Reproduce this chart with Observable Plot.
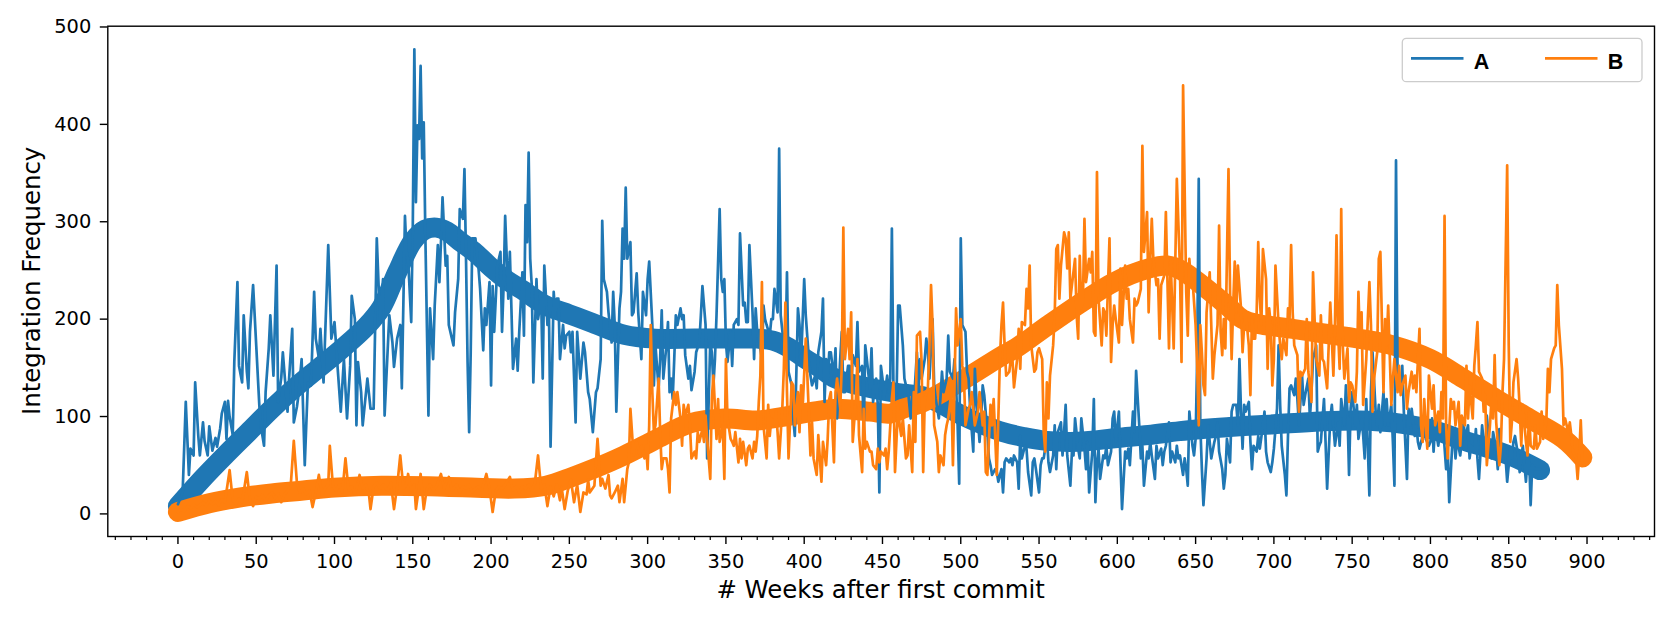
<!DOCTYPE html>
<html>
<head>
<meta charset="utf-8">
<script src="https://cdn.jsdelivr.net/npm/d3@7"></script>
<script src="https://cdn.jsdelivr.net/npm/@observablehq/plot@0.6"></script>
<style>
  html, body { margin: 0; padding: 0; background: #fff; }
  #chart { width: 1674px; height: 620px; }
</style>
</head>
<body>
<div id="chart"></div>
<script>
// ---- Data: [week, integration frequency] ----
const seriesNames = ["A", "B"];
const seriesColors = ["#1f77b4", "#ff7f0e"];

const seriesA = [
[0,10],[3,22],[5,115],[7,40],[8,67],[10,60],[11,135],[13,80],[14,60],[16,94],[17,75],[19,60],[20,90],[22,65],[24,78],[25,69],[27,88],[28,103],[30,115],[31,77],[32,116],[33,100],[35,81],[36,156],[38,238],[39,152],[41,135],[42,204],[44,146],[45,129],[46,187],[48,235],[50,173],[52,111],[53,90],[55,70],[56,125],[58,170],[59,204],[61,142],[63,255],[64,115],[66,140],[67,166],[69,125],[70,105],[71,139],[73,190],[74,94],[76,110],[77,122],[79,159],[81,50],[83,135],[85,132],[87,228],[88,180],[90,160],[91,190],[93,135],[96,276],[98,180],[100,197],[102,150],[104,105],[106,159],[108,98],[110,152],[111,224],[113,200],[114,91],[115,156],[117,125],[118,91],[121,139],[123,108],[125,108],[127,283],[129,200],
[131,241],[132,101],[135,204],[137,176],[138,151],[140,180],[142,194],[143,129],[145,306],[146,269],[147,262],[149,197],[150,296],[151,477],[152,320],[153,399],[154,385],[155,460],[156,365],[157,402],[158,289],[159,194],[160,101],[161,211],[163,159],[164,214],[166,276],[167,238],[168,279],[169,325],[171,255],[172,265],[173,194],[175,180],[176,173],[177,207],[179,241],[180,313],[182,303],[183,354],[184,262],[185,156],[186,84],[187,166],[188,283],[190,283],[192,252],[193,231],[195,168],[196,211],[197,194],[199,238],[200,132],[201,234],[202,187],[204,255],[206,269],[207,187],[208,234],[209,306],[211,221],[212,269],[213,211],[214,149],[216,180],[217,147],[218,187],[220,248],[221,183],[222,317],[223,279],[224,371],[225,262],[226,234],[227,135],[229,241],[230,200],[232,221],[233,139],[234,255],[236,194],[237,204],[238,69],[240,228],[241,204],[242,221],[243,221],[244,159],[246,194],[247,170],[248,183],[250,187],[251,166],[252,187],[254,94],[255,187],[257,139],[259,176],[260,166],[262,125],
[263,118],[265,84],[267,125],[268,129],[270,159],[271,301],[272,241],[274,228],[275,207],[277,176],[278,228],[279,194],[280,105],[282,211],[283,228],[284,293],[285,262],[286,335],[287,262],[289,279],[290,204],[291,207],[293,247],[294,207],[296,159],[297,228],[299,204],[300,241],[301,259],[303,194],[304,132],[305,173],[307,129],[308,159],[309,209],[310,139],[312,173],[313,197],[314,125],[315,139],[316,118],[317,159],[318,204],[319,194],[321,211],[322,200],[323,204],[324,163],[326,139],[327,152],[328,127],[330,146],[331,166],[333,176],[334,204],[335,234],[337,194],[338,57],[340,176],[341,166],[342,132],[343,159],[344,204],[346,313],[347,241],[348,228],[349,241],[350,176],[351,156],[353,187],[354,152],[355,194],[357,200],[358,194],[359,288],[361,214],[362,217],[363,197],[364,197],[365,276],[367,207],[368,159],[369,211],[370,187],[371,180],[373,159],[374,214],[375,200],[376,194],[378,183],[379,200],[380,200],[381,231],[383,207],[384,375],[385,204],[387,173],[388,159],[389,248],[390,146],[392,132],[393,98],[394,80],[396,211],[397,194],[398,156],
[400,241],[401,204],[403,159],[404,142],[405,132],[407,142],[408,129],[409,166],[411,187],[412,221],[413,115],[414,159],[415,139],[416,166],[417,166],[419,139],[420,170],[421,98],[423,159],[424,187],[425,125],[426,125],[428,152],[429,152],[430,125],[431,163],[433,152],[434,197],[435,146],[437,152],[438,80],[439,173],[440,159],[442,129],[443,170],[444,115],[446,139],[447,112],[448,22],[449,152],[450,139],[451,118],[453,142],[454,125],[455,139],[456,293],[457,132],[459,122],[460,214],[461,214],[463,173],[464,139],[465,132],[466,132],[468,98],[469,122],[470,112],[472,166],[473,129],[474,159],[475,139],[477,159],[478,180],[479,166],[480,139],[482,200],[483,132],[484,118],[486,98],[487,118],[488,146],[489,125],[491,139],[492,183],[493,146],[495,139],[496,159],[497,132],[498,91],[499,31],[500,283],[501,194],[503,187],[504,146],[505,139],[506,108],[508,64],[509,149],[510,118],[512,74],[513,98],[514,132],[515,122],[517,84],[518,57],[519,50],[520,40],[522,46],[523,43],[524,33],[526,46],[527,22],[528,53],[529,57],[531,53],[532,57],[533,50],
[534,60],[536,53],[537,26],[538,80],[539,57],[541,70],[542,67],[543,43],[545,19],[546,53],[547,57],[548,46],[550,22],[551,50],[552,57],[553,57],[555,80],[556,53],[557,43],[559,60],[560,91],[561,46],[562,84],[564,94],[565,60],[566,84],[567,112],[568,60],[570,29],[571,64],[572,60],[573,98],[575,67],[576,57],[577,98],[579,67],[580,46],[581,74],[582,22],[584,64],[585,118],[586,12],[587,53],[588,67],[589,36],[591,60],[592,57],[593,70],[594,50],[596,64],[597,98],[598,105],[599,74],[601,105],[602,53],[603,5],[605,64],[606,57],[607,67],[608,50],[610,105],[611,84],[612,147],[614,91],[615,57],[616,70],[617,29],[619,64],[620,57],[621,74],[622,60],[624,36],[625,70],[626,57],[628,67],[629,50],[630,64],[631,70],[633,94],[634,53],[635,64],[637,53],[638,70],[639,57],[640,60],[642,40],[643,57],[644,46],[645,29],[646,105],[648,70],[649,60],[650,77],[651,159],[652,344],[653,91],[654,46],[655,9],[657,57],[658,91],[659,74],[660,57],[662,74],[663,80],[664,94],[665,64],[667,46],[668,26],
[669,40],[670,77],[672,53],[673,105],[674,112],[676,112],[677,91],[678,159],[679,105],[680,67],[681,112],[682,105],[684,115],[685,74],[686,46],[687,70],[689,64],[690,80],[691,67],[693,91],[694,105],[695,64],[696,53],[698,43],[699,53],[700,67],[702,108],[703,173],[704,112],[705,70],[707,40],[708,19],[709,80],[710,129],[711,132],[713,122],[714,139],[715,118],[716,91],[718,142],[719,112],[720,122],[722,139],[723,98],[724,125],[725,159],[727,173],[728,64],[729,70],[730,74],[732,118],[733,74],[734,26],[736,98],[737,112],[738,91],[739,70],[741,94],[742,70],[743,118],[745,91],[746,132],[747,105],[748,40],[749,108],[750,125],[752,91],[753,112],[754,77],[756,98],[757,81],[758,57],[759,118],[761,19],[762,125],[763,166],[765,105],[766,91],[767,112],[768,84],[770,125],[771,91],[772,118],[773,91],[775,112],[776,74],[777,29],[778,363],[779,142],[781,125],[782,152],[783,105],[785,36],[786,108],[787,91],[788,108],[790,80],[791,91],[792,74],[793,67],[795,80],[796,91],[797,77],[799,70],
[800,74],[801,98],[802,64],[803,91],[805,70],[806,84],[807,77],[808,91],[810,46],[811,70],[812,12],[814,74],[815,80],[816,57],[817,77],[819,60],[820,74],[821,98],[822,77],[824,91],[825,57],[826,70],[828,64],[829,87],[830,57],[831,36],[833,91],[834,74],[835,60],[836,101],[838,64],[839,57],[840,84],[842,67],[843,46],[844,87],[845,57],[847,70],[848,57],[849,33],[851,67],[852,57],[853,74],[854,80],[856,60],[857,43],[858,57],[859,70],[861,33],[862,57],[863,60],[864,9],[865,50],[867,46],[868,46],[870,46]
];

const seriesB = [
[0,2],[2,5],[4,3],[6,8],[8,6],[10,10],[12,7],[14,9],[16,12],[18,8],[20,14],[22,10],[24,13],[26,9],[28,15],[30,12],[33,45],[35,14],[37,10],[39,16],[41,12],[44,43],[46,14],[48,8],[50,18],[52,15],[54,20],[56,12],[58,19],[60,22],[62,16],[64,21],[66,12],[68,20],[70,24],[72,28],[74,75],[76,32],[78,22],[80,26],[82,20],[84,24],[86,7],[88,22],[90,40],[92,20],[94,26],[96,30],[97,70],[99,28],[101,24],[103,30],[105,22],[107,57],[109,24],[111,28],[113,20],[115,32],[116,40],[118,26],[120,30],[122,20],[123,5],[125,28],[127,32],[129,26],
[131,30],[134,24],[136,32],[138,5],[140,28],[142,60],[144,26],[146,30],[147,41],[149,24],[151,30],[152,5],[154,28],[155,41],[157,5],[159,26],[161,30],[163,24],[165,28],[168,41],[170,26],[173,38],[175,24],[178,30],[180,22],[182,28],[184,26],[186,30],[188,22],[190,26],[192,28],[194,24],[197,41],[199,26],[201,2],[203,24],[205,28],[207,26],[209,30],[212,38],[214,24],[216,28],[218,22],[220,28],[222,26],[224,30],[226,24],[228,32],[230,60],[232,26],[234,30],[236,8],[238,28],[240,18],[242,30],[244,14],[245,28],[247,5],[249,24],[251,35],[253,12],[255,30],[257,2],[259,22],[261,20],[262,35],
[263,22],[266,29],[268,77],[270,29],[271,36],[273,26],[275,40],[276,19],[277,16],[279,22],[281,29],[282,12],[284,36],[285,12],[287,46],[288,53],[289,108],[291,60],[292,70],[293,74],[295,60],[296,70],[298,57],[299,70],[300,46],[301,91],[302,194],[303,125],[304,84],[305,91],[307,139],[308,84],[309,46],[310,57],[312,57],[313,46],[314,22],[315,98],[317,125],[318,112],[319,125],[321,98],[322,70],[323,112],[324,101],[326,112],[327,91],[328,57],[330,64],[331,57],[332,84],[333,74],[335,87],[336,74],[337,101],[338,77],[340,36],[341,118],[342,142],[344,77],[345,118],[346,74],[348,91],[349,36],[350,159],[351,98],[353,77],[354,74],[355,70],[356,84],[358,53],[359,77],[360,57],[361,74],[363,50],[364,67],[365,70],[367,57],[368,74],[369,64],[370,80],[371,115],[372,142],[373,238],[374,91],[376,57],[377,112],[378,80],[379,98],[381,91],[382,105],[383,84],[384,57],[386,108],[387,149],[388,217],[389,125],[390,57],[392,135],[393,132],[394,91],[396,125],[397,84],[398,132],[399,108],
[401,180],[402,142],[403,101],[404,60],[405,94],[406,57],[408,40],[409,81],[410,57],[411,33],[412,74],[414,50],[415,77],[416,118],[417,125],[419,53],[420,125],[421,139],[423,108],[424,152],[425,294],[426,159],[428,190],[429,159],[430,207],[431,74],[433,118],[434,159],[435,81],[437,43],[438,108],[439,67],[440,74],[442,64],[443,64],[444,50],[446,46],[447,67],[448,53],[449,64],[451,60],[452,67],[453,46],[454,64],[456,118],[457,135],[458,43],[460,112],[461,91],[462,80],[463,98],[465,57],[466,60],[467,91],[469,43],[470,125],[471,74],[472,183],[474,187],[475,156],[476,43],[477,118],[479,129],[480,173],[481,235],[482,194],[483,91],[485,74],[486,43],[487,60],[489,50],[490,81],[491,91],[492,98],[494,125],[495,50],[496,132],[497,211],[498,173],[500,200],[501,152],[502,142],[503,91],[505,108],[506,112],[507,125],[509,91],[510,98],[511,105],[512,125],[514,91],[515,105],[516,43],[517,40],[519,112],[520,91],[521,118],[523,40],[524,98],[525,159],[526,194],[527,217],[528,173],[529,142],[531,146],[532,159],[533,159],
[534,130],[536,159],[537,190],[538,149],[539,197],[541,194],[542,231],[543,211],[544,255],[545,173],[547,146],[548,149],[549,166],[550,170],[552,159],[553,84],[554,64],[555,135],[556,98],[557,142],[559,173],[560,204],[561,272],[562,276],[563,221],[564,255],[566,289],[567,283],[568,252],[569,289],[570,221],[571,235],[573,262],[574,204],[575,180],[576,265],[577,211],[578,217],[579,303],[580,238],[582,262],[583,248],[584,269],[585,187],[586,183],[587,351],[588,221],[590,173],[591,211],[592,207],[593,183],[595,283],[596,156],[597,194],[598,214],[599,200],[601,176],[602,252],[603,194],[605,255],[606,221],[607,231],[608,200],[610,176],[611,221],[612,214],[613,217],[615,231],[616,378],[617,269],[619,310],[620,207],[621,262],[622,303],[623,262],[625,235],[626,241],[627,180],[628,235],[630,245],[631,310],[633,170],[634,262],[635,217],[636,170],[638,344],[640,252],[641,156],[642,440],[644,228],[645,183],[646,262],[647,238],[648,241],[650,194],[651,152],[652,91],[653,194],[654,166],[655,132],[656,122],[657,207],[659,248],[660,194],[661,139],[662,163],[664,194],[665,296],[666,187],[667,163],[668,200],
[669,170],[671,354],[672,228],[673,159],[674,214],[675,259],[676,207],[677,255],[679,211],[680,166],[681,194],[682,207],[684,173],[685,122],[686,204],[687,180],[688,180],[689,207],[690,279],[691,221],[692,194],[693,272],[695,241],[696,149],[697,211],[698,194],[699,132],[700,159],[701,255],[703,194],[704,173],[705,159],[706,180],[708,163],[709,211],[710,200],[711,276],[712,207],[713,173],[715,163],[716,105],[717,146],[718,142],[720,149],[721,200],[722,146],[724,115],[725,248],[726,200],[727,159],[729,142],[730,204],[731,159],[732,156],[734,129],[735,173],[736,217],[738,142],[739,194],[740,286],[741,187],[742,149],[743,313],[744,173],[745,139],[747,170],[748,115],[749,135],[750,132],[752,115],[753,146],[754,228],[755,173],[756,207],[757,112],[759,159],[760,200],[761,238],[762,194],[763,105],[764,139],[766,166],[767,262],[768,269],[770,125],[771,200],[772,173],[773,214],[775,112],[776,139],[777,159],[779,125],[780,152],[781,122],[782,132],[784,142],[785,108],[786,125],[788,146],[789,129],[790,142],[791,125],[793,190],[794,91],[795,74],[796,118],[798,67],[799,142],
[800,125],[801,108],[802,132],[803,91],[805,105],[806,84],[807,125],[808,98],[809,306],[810,91],[811,57],[813,118],[814,108],[815,115],[816,91],[818,115],[819,70],[820,101],[822,91],[823,152],[824,98],[825,132],[827,98],[828,152],[829,173],[830,197],[831,146],[833,139],[834,105],[835,122],[836,50],[838,91],[839,118],[840,98],[841,163],[842,94],[844,50],[845,70],[846,125],[847,159],[849,358],[850,173],[851,74],[852,94],[853,135],[855,159],[856,139],[857,108],[858,70],[859,112],[861,74],[862,60],[863,105],[864,70],[866,67],[867,91],[868,67],[870,74],[871,105],[872,77],[874,94],[875,149],[876,125],[877,159],[879,170],[880,173],[881,235],[882,194],[884,149],[885,91],[886,98],[888,84],[889,94],[890,80],[891,64],[893,57],[894,36],[895,60],[896,96],[897,53],[898,51]
];

// smoothed trends (drawn as thick dotted bands in the original)
const trendA = [[0,8],[15,35],[30,60],[45,84],[60,108],[75,130],[90,150],[105,170],[120,192],[130,212],[140,248],[150,280],[158,292],[165,294],[172,290],[180,280],[190,268],[200,253],[210,240],[220,230],[235,214],[250,205],[265,196],[285,184],[305,180],[330,180],[350,180],[370,180],[380,178],[390,171],[400,160],[410,150],[420,139],[440,130],[460,124],[475,121],[485,115],[495,106],[505,98],[515,91],[527,84],[540,79],[555,75],[575,74],[600,78],[620,81],[640,85],[670,89],[700,92],[730,95],[755,96],[775,94],[800,87],[820,76],[840,66],[855,57],[870,45]];
const trendB = [[0,2],[20,11],[40,17],[60,21],[80,24],[100,27],[130,29],[170,28],[215,26],[235,29],[252,38],[265,46],[285,60],[306,77],[327,93],[349,98],[370,96],[391,101],[410,106],[421,108],[442,105],[455,103],[463,108],[475,114],[485,122],[506,142],[527,163],[535,170],[556,194],[577,217],[598,238],[620,252],[632,255],[641,250],[654,235],[670,214],[680,200],[690,195],[712,190],[733,185],[754,180],[776,173],[800,159],[821,139],[842,118],[863,98],[885,77],[897,58]];

const xMajorTicks = d3.range(0, 901, 50);
const xMinorTicks = d3.range(-40, 941, 10).filter(v => v % 50 !== 0);
const yTicks = [0, 100, 200, 300, 400, 500];
const xLabel = "# Weeks after first commit";
const yLabel = "Integration Frequency";

// ---- Chart ----
const W = 1674, H = 620;
const mL = 107.3, mR = 20, mT = 25.7, mB = 84;
const fx = d => d[0], fy = d => d[1];

const svg = Plot.plot({
  width: W, height: H,
  marginLeft: mL, marginRight: mR, marginTop: mT, marginBottom: mB,
  style: {fontFamily: "DejaVu Sans", fontSize: "19.4px", color: "black", background: "white", overflow: "visible"},
  x: {domain: [-44.8, 943.1]},
  y: {domain: [-23.2, 500.8]},
  marks: [
    Plot.line(trendA, {x: fx, y: fy, stroke: seriesColors[0], strokeWidth: 20, curve: "catmull-rom", strokeLinecap: "round", strokeLinejoin: "round"}),
    Plot.line(trendB, {x: fx, y: fy, stroke: seriesColors[1], strokeWidth: 20, curve: "catmull-rom", strokeLinecap: "round", strokeLinejoin: "round"}),
    Plot.line(seriesA, {x: fx, y: fy, stroke: seriesColors[0], strokeWidth: 2.7, strokeLinejoin: "round"}),
    Plot.line(seriesB, {x: fx, y: fy, stroke: seriesColors[1], strokeWidth: 2.7, strokeLinejoin: "round"}),
    Plot.axisX({ticks: xMinorTicks, tickSize: 4, tickFormat: () => "", label: null, strokeWidth: 1.2}),
    Plot.axisX({ticks: xMajorTicks, tickSize: 8, tickPadding: 9.5, label: null, strokeWidth: 1.4, tickFormat: d => String(d)}),
    Plot.axisY({ticks: yTicks, tickSize: 7.5, tickPadding: 9, label: null, strokeWidth: 1.4, tickFormat: d => String(d)}),
    Plot.frame({stroke: "black", strokeWidth: 1.4})
  ]
});

const s = d3.select(svg);
// axis titles
s.append("text")
  .attr("x", (mL + (W - mR)) / 2).attr("y", 598)
  .attr("text-anchor", "middle")
  .attr("font-family", "DejaVu Sans").attr("font-size", "24.4px").attr("fill", "black")
  .text(xLabel);
s.append("text")
  .attr("transform", `translate(40,${(mT + (H - mB)) / 2}) rotate(-90)`)
  .attr("text-anchor", "middle")
  .attr("font-family", "DejaVu Sans").attr("font-size", "24.4px").attr("fill", "black")
  .text(yLabel);

// legend
const lg = s.append("g");
lg.append("rect")
  .attr("x", 1402.3).attr("y", 38.3).attr("width", 239.7).attr("height", 43.4)
  .attr("rx", 4).attr("fill", "white").attr("fill-opacity", 0.8)
  .attr("stroke", "#cccccc").attr("stroke-width", 1.3);
const lx = [1411, 1545];
seriesNames.forEach((name, i) => {
  lg.append("line")
    .attr("x1", lx[i]).attr("x2", lx[i] + 52.5)
    .attr("y1", 58.3).attr("y2", 58.3)
    .attr("stroke", seriesColors[i]).attr("stroke-width", 2.7);
  lg.append("text")
    .attr("x", lx[i] + 70.5).attr("y", 69)
    .attr("font-family", "Liberation Sans, Arial, sans-serif")
    .attr("font-weight", "bold").attr("font-size", "21.5px").attr("fill", "black")
    .text(name);
});

document.getElementById("chart").appendChild(svg);
</script>
</body>
</html>
